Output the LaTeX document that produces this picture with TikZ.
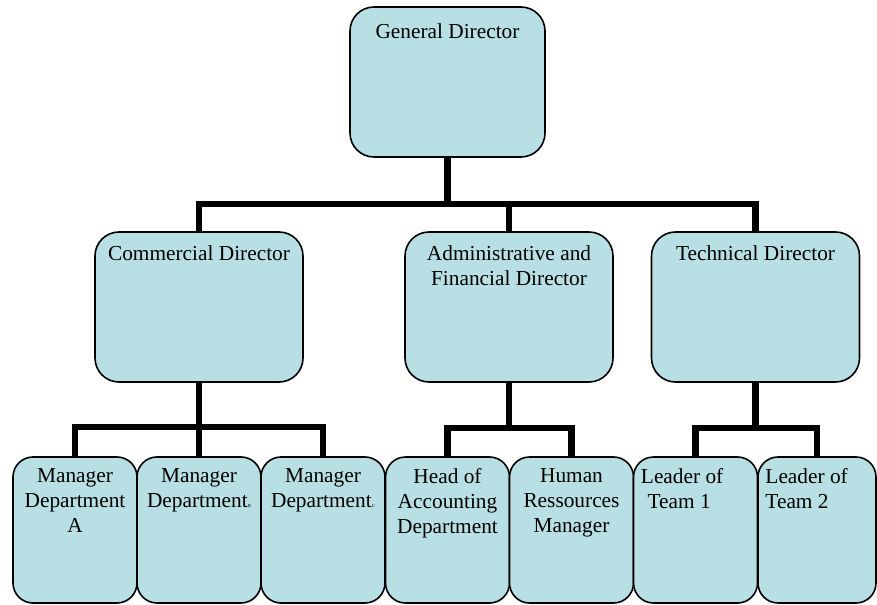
\documentclass[tikz,border=0pt]{standalone}
\usepackage{fontspec}
\setmainfont{Liberation Serif}
\usetikzlibrary{positioning}
\definecolor{boxfill}{RGB}{184,223,227}

\begin{document}
\begin{tikzpicture}[
    x=0.75pt, y=-0.75pt,
    % Director box: large rounded rectangle, pale blue
    bigbox/.style={
        rectangle, rounded corners=18pt, draw=black, line width=1.2pt,
        fill=boxfill, inner sep=0pt,
        minimum width=156pt, minimum height=112.5pt
    },
    % Staff box: narrower rounded rectangle
    smallbox/.style={
        rectangle, rounded corners=15pt, draw=black, line width=1.2pt,
        fill=boxfill, inner sep=0pt,
        minimum width=93pt, minimum height=109.5pt
    },
    % Box text
    txt/.style={
        font=\fontsize{16}{18.75}\selectfont, align=center, inner sep=0pt
    },
    % Thick connector
    conn/.style={line width=4.8pt, black},
]
\useasboundingbox (0,0) rectangle (877,605);

% ============================================================
% TOP: General Director
% ============================================================
\node[bigbox, minimum width=146.25pt] (gd) at (447.5, 82) {};
\node[txt, below=13pt of gd.north] (gd-t) {General Director};

% ============================================================
% LEVEL 1: directors
% ============================================================
\node[bigbox] (cd)  at (199,   307) {};
\node[bigbox] (afd) at (509,   307) {};
\node[bigbox] (td)  at (755.5, 307) {};

\node[txt, below=11pt of cd.north]  (cd-t)  {Commercial Director};
\node[txt, below=11pt of afd.north] (afd-t) {Administrative and\\Financial Director};
\node[txt, below=11pt of td.north]  (td-t)  {Technical Director};

% ============================================================
% LEVEL 2: managers and team leaders
% ============================================================
\node[smallbox] (mA)  at ( 75,   530) {};
\node[smallbox] (mB)  at (199,   530) {};
\node[smallbox] (mC)  at (323,   530) {};
\node[smallbox] (hoa) at (447.5, 530) {};
\node[smallbox] (hrm) at (571.5, 530) {};
\node[smallbox] (lt1) at (695.5, 530) {};
\node[smallbox, minimum width=88.5pt] (lt2) at (817, 530) {};

\node[txt, below=9pt of mA.north]  (mA-t)  {Manager\\Department\\A};
\node[txt, below=9pt of mB.north]  (mB-t)  {Manager\\Department{\fontsize{3.5}{3.5}\selectfont B}};
\node[txt, below=9pt of mC.north]  (mC-t)  {Manager\\Department{\fontsize{3.5}{3.5}\selectfont C}};
\node[txt, below=9pt of hoa.north] (hoa-t) {Head of\\Accounting\\Department};
\node[txt, below=9pt of hrm.north] (hrm-t) {Human\\Ressources\\Manager};
\node[txt, align=left, below right=9pt and 6pt of lt1.north west] (lt1-t)
    {Leader of\\\hspace*{5pt}Team 1};
\node[txt, align=left, below right=9pt and 6pt of lt2.north west] (lt2-t)
    {Leader of\\Team 2};

% ============================================================
% CONNECTORS
% ============================================================
\draw[conn] (gd.south) -- ++(0,46) coordinate (bus1);
\draw[conn] (cd.north) |- (bus1) -| (td.north);
\draw[conn] (afd.north) -- (afd.north |- bus1);

\draw[conn] (cd.south) -- ++(0,44) coordinate (bus2);
\draw[conn] (mA.north) |- (bus2) -| (mC.north);
\draw[conn] (mB.north) -- (mB.north |- bus2);

\draw[conn] (afd.south) -- ++(0,45) coordinate (bus3);
\draw[conn] (hoa.north) |- (bus3) -| (hrm.north);

\draw[conn] (td.south) -- ++(0,45) coordinate (bus4);
\draw[conn] (lt1.north) |- (bus4) -| (lt2.north);

\end{tikzpicture}
\end{document}
